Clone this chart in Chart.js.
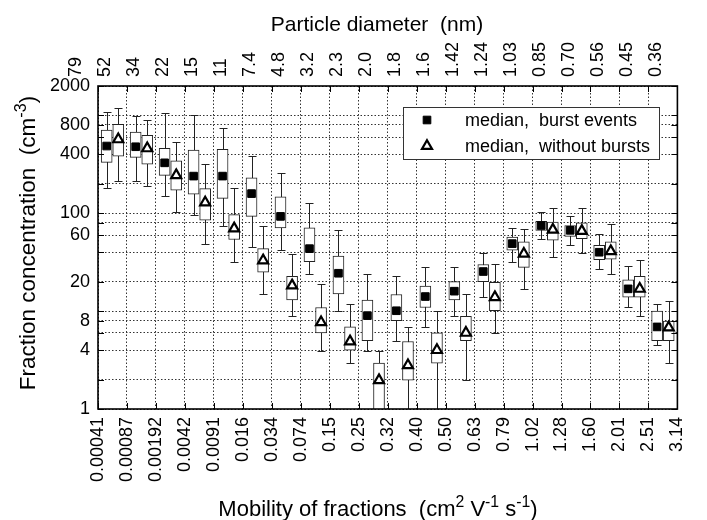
<!DOCTYPE html>
<html>
<head>
<meta charset="utf-8">
<script src="https://cdn.jsdelivr.net/npm/chart.js@4.4.1/dist/chart.umd.min.js"></script>
<style>
  html, body { margin: 0; padding: 0; background: #fff; }
  canvas { display: block; }
</style>
</head>
<body>
<canvas id="chart" width="707" height="520"></canvas>
<script>
// class boundaries: mobility (bottom axis) and particle diameter in nm (top axis)
const mobility = ['0.00041','0.00087','0.00192','0.0042','0.0091','0.016','0.034','0.074','0.15','0.25','0.32','0.40','0.50','0.63','0.79','1.02','1.28','1.60','2.01','2.51','3.14'];
const diameter = ['79','52','34','22','15','11','7.4','4.8','3.2','2.3','2.0','1.8','1.6','1.42','1.24','1.03','0.85','0.70','0.56','0.45','0.36'];

// burst events: whisker low, box low, median, box high, whisker high
const burstMin = [180,216,151,97,74,45,42,24,10,3.9,5.0,6.9,9,14.1,32,54,47,27,10.9,4.5];
const burstQ1  = [331,373,244,157,142,93,71,32,15,5.0,8,10.9,13,20,42,67,58,33.5,13.9,5.0];
const burstMed = [487,479,328,240,240,159,93,43.5,24.4,9,10.1,14.1,16,25.4,49,75,67,40,16.9,6.9];
const burstQ3  = [710,677,461,443,450,230,147,71,36.5,13,14.8,18,20,30,57,83,75,47,20.9,10];
const burstMax = [1078,995,1053,1012,739,384,261,128,67,24,22.7,28,28,39,70,103,94,62,28.8,11.9];

// days without bursts
const quietMin = [216,189,102,48,32,15,9,3.9,2.94,0.9,0.9,0.9,1.97,6.0,16.9,36,39,24,8.85,2.94];
const quietQ1  = [384,318,172,85,54,25,13,6.0,4.0,0.9,1.97,2.94,5.0,10.1,28,53,55,34,13.9,5.0];
const quietMed = [570,461,245,129,70,33,18.3,7.7,4.9,1.97,2.8,4.0,6.0,13.9,38.6,68,66,41,16.9,6.8];
const quietQ3  = [812,626,344,179,97,43.5,22.7,10.9,6.9,2.94,4.9,6.0,8.85,19.7,51,81.5,80,51,22.7,7.9];
const quietMax = [1186,893,531,316,183,74,38,18.8,11.9,3.9,6.9,10.1,15,30,68.5,113,113,77,33.7,12.8];

// y axis: grid lines and the ones that carry a label
const yGrid = [1,2,4,6,8,10,20,40,60,80,100,200,400,600,800,1000,2000];
const yLabels = [1,4,8,20,60,100,400,800,2000];

const FONT = '"Liberation Sans", Arial, Helvetica, sans-serif';
const BURST_OFF = 0.3, QUIET_OFF = 0.7;

function richText(ctx, parts, cx, cy, size, angle) {
  const supSize = size * 0.72;
  let w = 0;
  parts.forEach(p => {
    ctx.font = (p.sup ? supSize : size) + 'px ' + FONT;
    p.w = ctx.measureText(p.t).width;
    w += p.w;
  });
  ctx.save();
  ctx.translate(cx, cy);
  ctx.rotate(angle);
  ctx.fillStyle = '#000';
  ctx.textAlign = 'left';
  ctx.textBaseline = 'alphabetic';
  let xx = -w / 2;
  parts.forEach(p => {
    ctx.font = (p.sup ? supSize : size) + 'px ' + FONT;
    ctx.fillText(p.t, xx, size * 0.36 - (p.sup ? size * 0.42 : 0));
    xx += p.w;
  });
  ctx.restore();
}

const whiskers = {
  id: 'whiskers',
  beforeDatasetsDraw(chart) {
    const {ctx, chartArea: a, scales: {x, y}} = chart;
    ctx.save();
    ctx.beginPath();
    ctx.rect(a.left, a.top, a.right - a.left, a.bottom - a.top);
    ctx.clip();
    ctx.strokeStyle = '#222';
    ctx.lineWidth = 1;
    [[burstMin, burstMax, BURST_OFF], [quietMin, quietMax, QUIET_OFF]].forEach(([lo, hi, off]) => {
      lo.forEach((v, i) => {
        const px = Math.round(x.getPixelForValue(i + off)) + 0.5;
        const y0 = Math.round(y.getPixelForValue(v)) + 0.5;
        const y1 = Math.round(y.getPixelForValue(hi[i])) + 0.5;
        ctx.beginPath();
        ctx.moveTo(px, y0); ctx.lineTo(px, y1);
        ctx.moveTo(px - 4, y0); ctx.lineTo(px + 4, y0);
        ctx.moveTo(px - 4, y1); ctx.lineTo(px + 4, y1);
        ctx.stroke();
      });
    });
    ctx.restore();
  }
};

const decor = {
  id: 'decor',
  afterDraw(chart) {
    const {ctx, chartArea: a, scales: {x, y}} = chart;
    ctx.save();
    // inward tick marks
    ctx.strokeStyle = '#000';
    ctx.lineWidth = 1;
    ctx.beginPath();
    mobility.forEach((_, i) => {
      const px = Math.round(x.getPixelForValue(i)) + 0.5;
      ctx.moveTo(px, a.bottom); ctx.lineTo(px, a.bottom - 6);
      ctx.moveTo(px, a.top); ctx.lineTo(px, a.top + 6);
    });
    yGrid.forEach(v => {
      const py = Math.round(y.getPixelForValue(v)) + 0.5;
      ctx.moveTo(a.left, py); ctx.lineTo(a.left + 6, py);
      ctx.moveTo(a.right, py); ctx.lineTo(a.right - 6, py);
    });
    ctx.stroke();
    // frame
    ctx.lineWidth = 1.6;
    ctx.strokeRect(a.left, a.top, a.right - a.left, a.bottom - a.top);

    // legend
    const lx = 403, ly = 107, lw = 256, lh = 52;
    ctx.fillStyle = '#fff';
    ctx.fillRect(lx, ly, lw, lh);
    ctx.lineWidth = 1;
    ctx.strokeStyle = '#333';
    ctx.strokeRect(lx + 0.5, ly + 0.5, lw, lh);
    [0, 1].forEach(k => {
      const ds = chart.data.datasets[k];
      const my = ly + 13 + k * 26;
      ctx.fillStyle = ds.backgroundColor;
      ctx.strokeStyle = ds.borderColor;
      ctx.lineWidth = ds.borderWidth;
      Chart.helpers.drawPoint(ctx, {pointStyle: ds.pointStyle, radius: ds.pointRadius, borderWidth: ds.borderWidth, rotation: 0}, lx + 24, my);
      ctx.fillStyle = '#000';
      ctx.font = '18px ' + FONT;
      ctx.textAlign = 'left';
      ctx.textBaseline = 'middle';
      ctx.fillText(ds.label, lx + 62, my + 1);
    });

    // axis titles
    richText(ctx, [{t: 'Particle diameter  (nm)'}], 377, 23, 21, 0);
    richText(ctx, [{t: 'Mobility of fractions  (cm'}, {t: '2', sup: true}, {t: ' V'}, {t: '-1', sup: true}, {t: ' s'}, {t: '-1', sup: true}, {t: ')'}], 378, 508, 22, 0);
    richText(ctx, [{t: 'Fraction concentration  (cm'}, {t: '-3', sup: true}, {t: ')'}], 27, 243, 22.5, -Math.PI / 2);
    ctx.restore();
  }
};

const tickFont = {family: FONT, size: 18};
const dotted = {display: false, dash: [1.5, 2]};

new Chart(document.getElementById('chart'), {
  data: {
    datasets: [
      {
        type: 'scatter', label: 'median,  burst events',
        data: burstMed.map((v, i) => ({x: i + BURST_OFF, y: v})),
        pointStyle: 'rect', pointRadius: 5.4, backgroundColor: '#000', borderColor: '#000', borderWidth: 1
      },
      {
        type: 'scatter', label: 'median,  without bursts',
        data: quietMed.map((v, i) => ({x: i + QUIET_OFF, y: v})),
        pointStyle: 'triangle', pointRadius: 5.8, backgroundColor: '#fff', borderColor: '#000', borderWidth: 2.2
      },
      {
        type: 'bar', label: 'burst box',
        data: burstQ1.map((v, i) => ({x: i + BURST_OFF, y: [v, burstQ3[i]]})),
        backgroundColor: '#fff', borderColor: '#222', borderWidth: 1, borderSkipped: false,
        barThickness: 11, grouped: false
      },
      {
        type: 'bar', label: 'quiet box',
        data: quietQ1.map((v, i) => ({x: i + QUIET_OFF, y: [v, quietQ3[i]]})),
        backgroundColor: '#fff', borderColor: '#222', borderWidth: 1, borderSkipped: false,
        barThickness: 11, grouped: false
      }
    ]
  },
  options: {
    responsive: false,
    animation: false,
    layout: {padding: {top: 0, right: 11, bottom: 0, left: 0}},
    plugins: {legend: {display: false}, tooltip: {enabled: false}},
    scales: {
      x: {
        type: 'linear', position: 'bottom', min: 0, max: 20, offset: false,
        grid: {offset: false, drawTicks: false, color: '#333', lineWidth: 1},
        border: dotted,
        afterBuildTicks: s => { s.ticks = mobility.map((_, i) => ({value: i})); },
        afterFit: s => { s.height = 111; },
        ticks: {
          autoSkip: false, minRotation: 90, maxRotation: 90, padding: 8,
          color: '#000', font: tickFont,
          callback: v => mobility[v]
        }
      },
      x2: {
        type: 'linear', position: 'top', min: 0, max: 20, offset: false,
        grid: {display: false, offset: false, drawTicks: false},
        border: {display: false},
        afterBuildTicks: s => { s.ticks = diameter.map((_, i) => ({value: i})); },
        afterFit: s => { s.height = 86; },
        ticks: {
          autoSkip: false, minRotation: 90, maxRotation: 90, padding: 9,
          color: '#000', font: tickFont,
          callback: v => diameter[v]
        }
      },
      y: {
        type: 'logarithmic', min: 1, max: 2000,
        grid: {drawTicks: false, color: '#333', lineWidth: 1},
        border: dotted,
        afterBuildTicks: s => { s.ticks = yGrid.map(v => ({value: v})); },
        afterFit: s => { s.width = 98; },
        ticks: {
          autoSkip: false, padding: 8, color: '#000', font: tickFont,
          callback: v => yLabels.includes(v) ? String(v) : ''
        }
      }
    }
  },
  plugins: [whiskers, decor]
});
</script>
</body>
</html>
